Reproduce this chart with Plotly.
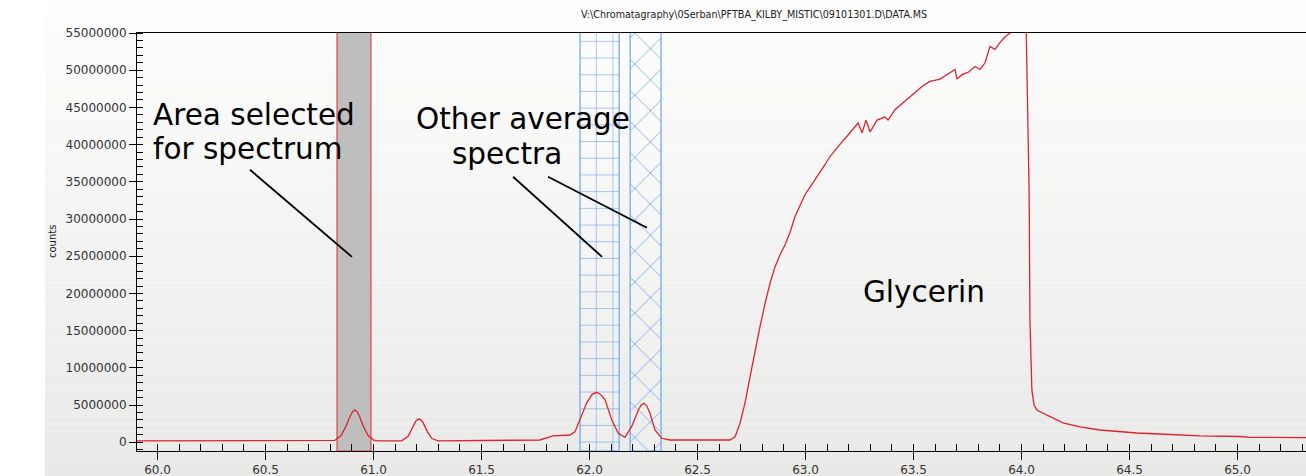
import plotly.graph_objects as go

# ---- data ----
time_min = [59.905, 60.30, 60.80, 60.82, 60.85, 60.87, 60.89, 60.903, 60.914, 60.925, 60.935, 60.955,
            60.975, 61.00, 61.02, 61.13, 61.16, 61.18, 61.195, 61.204, 61.211, 61.22, 61.23, 61.25,
            61.27, 61.30, 61.60, 61.771, 61.83, 61.91, 61.933, 61.956, 61.987, 62.012, 62.033, 62.052,
            62.072, 62.103, 62.133, 62.164, 62.195, 62.226, 62.240, 62.252, 62.265, 62.28, 62.303, 62.334,
            62.373, 62.650, 62.674, 62.697, 62.720, 62.743, 62.766, 62.789, 62.813, 62.836,
            62.859, 62.882, 62.905, 62.928, 62.951, 62.975, 62.998, 63.021, 63.044, 63.067,
            63.090, 63.113, 63.137, 63.170, 63.206, 63.243, 63.262, 63.280, 63.299, 63.331,
            63.368, 63.382, 63.414, 63.461, 63.507, 63.539, 63.576, 63.623, 63.646, 63.692,
            63.701, 63.724, 63.752, 63.785, 63.808, 63.831, 63.854, 63.877, 63.900, 63.924,
            63.947, 63.984, 64.021, 64.028, 64.035, 64.039, 64.048, 64.058, 64.072, 64.192,
            64.271, 64.363, 64.534, 64.688, 64.826, 65.012, 65.058, 65.317]
counts = [180000, 180000, 185000, 250000, 900000, 2000000, 3400000, 4100000, 4350000, 4050000, 3500000, 2000000,
          900000, 300000, 200000, 200000, 800000, 2000000, 2800000, 3080000, 3130000, 2980000, 2600000, 1400000,
          500000, 200000, 220000, 310000, 850000, 980000, 1430000, 3000000, 5300000, 6450000, 6720000, 6400000,
          5700000, 3000000, 1200000, 670000, 2100000, 4350000, 5050000, 5240000, 4900000, 3900000, 1650000, 540000,
          310000, 310000, 750000, 2600000, 5300000, 8800000, 12400000, 15500000, 18700000, 21400000,
          23600000, 25200000, 26500000, 28200000, 30300000, 31900000, 33300000, 34300000, 35300000, 36200000,
          37300000, 38400000, 39300000, 40400000, 41600000, 42900000, 41600000, 43300000, 41700000, 43300000,
          43700000, 43300000, 44700000, 45800000, 47000000, 47800000, 48500000, 48800000, 49200000, 50100000,
          48800000, 49400000, 49700000, 50500000, 50100000, 51000000, 53200000, 52800000, 53700000, 54500000,
          55000000, 56000000, 56500000, 46400000, 33900000, 16400000, 7000000, 5000000, 4300000, 2600000,
          2060000, 1650000, 1250000, 1050000, 850000, 780000, 670000, 620000]

# shaded spectrum windows (start / end in minutes)
region_start = [60.831, 61.956, 62.188]
region_end = [60.988, 62.137, 62.331]

title_text = "V:\\Chromatagraphy\\0Serban\\PFTBA_KILBY_MISTIC\\09101301.D\\DATA.MS"
y_tick_vals = [0, 5000000, 10000000, 15000000, 20000000, 25000000, 30000000,
               35000000, 40000000, 45000000, 50000000, 55000000]

# ---- layout constants ----
W, H = 1306, 476
L, R, T, B = 137, 0, 33, 25
Y_MIN, Y_MAX = -1170000, 55000000
X_MIN, X_MAX = 59.905, 65.317
FONT = "DejaVu Sans"

fig = go.Figure()

region_styles = [
    dict(color="rgb(190,190,190)", line="#e0434c", shape="", size=8),
    dict(color="rgba(255,255,255,0.15)", line="#6aa4ee", shape="+", size=16.7),
    dict(color="rgba(255,255,255,0.15)", line="#6aa4ee", shape="x", size=22),
]
for s, e, st in zip(region_start, region_end, region_styles):
    fig.add_trace(go.Bar(
        x=[(s + e) / 2], y=[Y_MAX * 1.05 - Y_MIN], base=[Y_MIN], width=[e - s],
        marker=dict(color=st["color"], line=dict(color=st["line"], width=1.2),
                    pattern=dict(shape=st["shape"], fgcolor=st["line"], size=st["size"],
                                 solidity=0.07, fgopacity=1)),
        hoverinfo="skip", showlegend=False))

fig.add_trace(go.Scatter(x=time_min, y=counts, mode="lines",
                         line=dict(color="#dc2430", width=1.3),
                         hoverinfo="skip", showlegend=False))

# background gradient bands (panel starts at x=45px)
shapes = []
nb = 32
x0p = (45 - L) / (W - L - R)
plot_h = H - T - B
for i in range(nb):
    py0 = H * i / nb
    py1 = H * (i + 1) / nb
    f = (i + 0.5) / nb
    c0, c1 = (254, 254, 254), (233, 233, 231)
    col = "rgb(%d,%d,%d)" % tuple(round(a + (b - a) * f) for a, b in zip(c0, c1))
    shapes.append(dict(type="rect", xref="paper", yref="paper", layer="below",
                       x0=x0p, x1=1.0, y0=(H - B - py1) / plot_h, y1=(H - B - py0) / plot_h,
                       fillcolor=col, line=dict(width=0)))

# pointer lines
pointers = [((60.428, 36620000), (60.900, 24920000)),
            ((61.646, 35680000), (62.058, 24920000)),
            ((61.808, 35680000), (62.266, 28820000))]
for (xa, ya), (xb, yb) in pointers:
    shapes.append(dict(type="line", xref="x", yref="y", x0=xa, y0=ya, x1=xb, y1=yb,
                       line=dict(color="black", width=1.8)))

big = dict(family=FONT, size=29.5, color="black")
annotations = [
    dict(text="Area selected", x=59.968, y=44020000, xanchor="left", yanchor="middle", font=big),
    dict(text="for spectrum", x=59.968, y=39440000, xanchor="left", yanchor="middle", font=big),
    dict(text="Other average", x=61.692, y=43480000, xanchor="center", yanchor="middle", font=big),
    dict(text="spectra", x=61.618, y=38770000, xanchor="center", yanchor="middle", font=big),
    dict(text="Glycerin", x=63.255, y=20210000, xanchor="left", yanchor="middle", font=big),
    dict(text=title_text, xref="paper", yref="paper", x=(754 - L) / (W - L - R),
         y=(H - B - 15) / plot_h, xanchor="center", yanchor="middle",
         font=dict(family=FONT, size=9.6, color="#222")),
    dict(text="counts", xref="paper", yref="paper", x=(52 - L) / (W - L - R), y=0.5,
         textangle=-90, xanchor="center", yanchor="middle",
         font=dict(family=FONT, size=10, color="#222")),
]
for a in annotations:
    a.setdefault("showarrow", False)
    a.setdefault("xref", "x")
    a.setdefault("yref", "y")

fig.update_layout(
    width=W, height=H, margin=dict(l=L, r=R, t=T, b=B, pad=0, autoexpand=False),
    paper_bgcolor="white", plot_bgcolor="rgba(0,0,0,0)",
    barmode="overlay", showlegend=False,
    shapes=shapes, annotations=annotations,
    xaxis=dict(range=[X_MIN, X_MAX], tick0=60, dtick=0.5, tickformat=".1f",
               ticks="outside", ticklen=8, tickcolor="black", showgrid=False, zeroline=False,
               showline=True, linecolor="black", linewidth=1, mirror=True,
               minor=dict(ticks="inside", dtick=0.1, tick0=60, ticklen=7, tickcolor="black",
                          showgrid=False),
               tickfont=dict(family=FONT, size=12, color="#333")),
    yaxis=dict(range=[Y_MIN, Y_MAX], tickvals=y_tick_vals, tickformat="d",
               ticks="outside", ticklen=7, tickcolor="black", showgrid=False, zeroline=False,
               showline=True, linecolor="black", linewidth=1,
               minor=dict(ticks="inside", dtick=1000000, tick0=0, ticklen=6, tickcolor="black",
                          showgrid=False),
               tickfont=dict(family=FONT, size=12, color="#333")),
)

fig.write_html("out.html", config={"displayModeBar": False},
               post_script="document.body.style.margin='0px';document.body.style.overflow='hidden';")
